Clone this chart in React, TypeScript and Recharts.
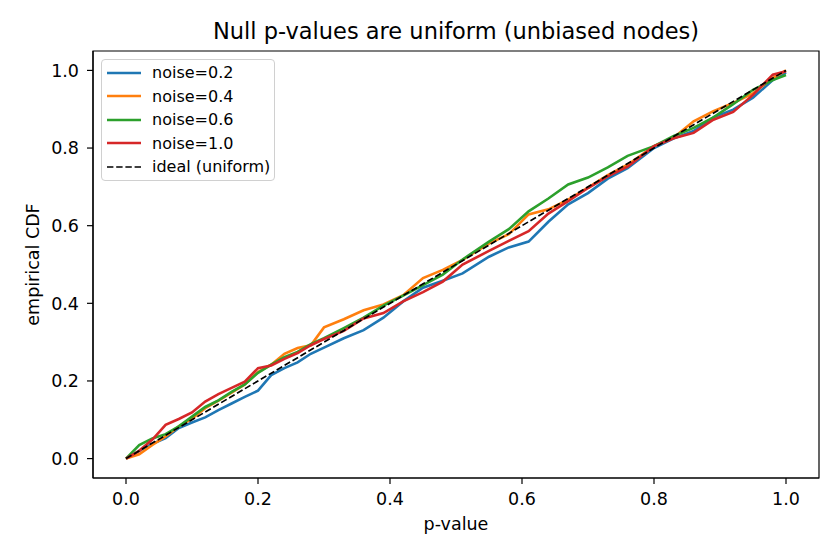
import { LineChart, Line, XAxis, YAxis, ReferenceArea, Legend } from 'recharts';

// sorted p-value grid the curves were read at
const pGrid = [
  0, 0.02, 0.04, 0.06, 0.08, 0.1, 0.12, 0.14, 0.16, 0.18, 0.2, 0.22, 0.24, 0.26, 0.28, 0.3, 0.33, 0.36, 0.39,
  0.42, 0.45, 0.48, 0.51, 0.55, 0.58, 0.61, 0.64, 0.67, 0.7, 0.73, 0.76, 0.8, 0.83, 0.86, 0.89, 0.92, 0.95, 0.98, 1.0,
];

const cdfNoise02 = [
  0, 0.02, 0.038, 0.053, 0.079, 0.093, 0.106, 0.125, 0.142, 0.159, 0.175, 0.215, 0.233, 0.248, 0.27, 0.286, 0.31,
  0.331, 0.363, 0.405, 0.44, 0.458, 0.477, 0.52, 0.544, 0.559, 0.61, 0.655, 0.684, 0.721, 0.748, 0.8, 0.825, 0.844,
  0.879, 0.899, 0.93, 0.975, 0.995,
];
const cdfNoise04 = [
  0, 0.011, 0.035, 0.057, 0.083, 0.103, 0.13, 0.149, 0.17, 0.191, 0.223, 0.242, 0.27, 0.285, 0.292, 0.338, 0.359,
  0.382, 0.397, 0.421, 0.465, 0.486, 0.512, 0.554, 0.578, 0.629, 0.642, 0.667, 0.698, 0.73, 0.757, 0.805, 0.827,
  0.869, 0.895, 0.916, 0.941, 0.98, 1.0,
];
const cdfNoise06 = [
  0, 0.035, 0.052, 0.063, 0.083, 0.108, 0.133, 0.15, 0.172, 0.191, 0.221, 0.242, 0.261, 0.275, 0.295, 0.31, 0.336,
  0.363, 0.394, 0.42, 0.447, 0.474, 0.513, 0.559, 0.591, 0.637, 0.67, 0.706, 0.724, 0.75, 0.78, 0.805, 0.831, 0.852,
  0.879, 0.913, 0.95, 0.975, 0.988,
];
const cdfNoise10 = [
  0, 0.02, 0.049, 0.087, 0.102, 0.119, 0.147, 0.166, 0.182, 0.198, 0.233, 0.24, 0.257, 0.272, 0.292, 0.308, 0.329,
  0.361, 0.375, 0.405, 0.429, 0.456, 0.5, 0.535, 0.561, 0.586, 0.631, 0.663, 0.697, 0.727, 0.752, 0.805, 0.825,
  0.839, 0.873, 0.893, 0.937, 0.989, 0.998,
];

const idealP = [0, 1];
const idealCdf = [0, 1];

const ticks = [0, 0.2, 0.4, 0.6, 0.8, 1.0];

const series = [
  { name: 'noise=0.2', color: '#1f77b4', values: cdfNoise02 },
  { name: 'noise=0.4', color: '#ff7f0e', values: cdfNoise04 },
  { name: 'noise=0.6', color: '#2ca02c', values: cdfNoise06 },
  { name: 'noise=1.0', color: '#d62728', values: cdfNoise10 },
];

const FONT = '"DejaVu Sans", sans-serif';

const LegendBox = () => (
  <div
    style={{
      width: 174,
      height: 122,
      boxSizing: 'border-box',
      border: '1px solid #d0d0d0',
      borderRadius: 4,
      background: 'rgba(255,255,255,0.8)',
      paddingTop: 1,
      fontFamily: FONT,
      fontSize: 16,
      color: '#000',
    }}
  >
    {[...series.map((s) => ({ name: s.name, color: s.color, dashed: false })), { name: 'ideal (uniform)', color: '#000', dashed: true }].map(
      (item) => (
        <div key={item.name} style={{ height: 23.5, display: 'flex', alignItems: 'center' }}>
          <svg width={34} height={6} style={{ marginLeft: 5, marginRight: 11 }}>
            <line
              x1={0}
              y1={3}
              x2={34}
              y2={3}
              stroke={item.color}
              strokeWidth={item.dashed ? 1.7 : 2.6}
              strokeDasharray={item.dashed ? '6.4 2.8' : undefined}
            />
          </svg>
          <span style={{ whiteSpace: 'nowrap' }}>{item.name}</span>
        </div>
      )
    )}
  </div>
);

export default function App() {
  const idealData = idealP.map((p, i) => ({ p, cdf: idealCdf[i] }));

  return (
    <div style={{ position: 'absolute', left: 0, top: 0, width: 840, height: 560, background: '#fff' }}>
      <div
        style={{
          position: 'absolute',
          left: 93,
          top: 20,
          width: 726,
          textAlign: 'center',
          fontFamily: FONT,
          fontSize: 22.5,
          lineHeight: '22px',
          color: '#000',
        }}
      >
        Null p-values are uniform (unbiased nodes)
      </div>
      <LineChart
        width={840}
        height={560}
        margin={{ top: 51, right: 21, bottom: 0, left: 0 }}
        style={{ fontFamily: FONT }}
      >
        <XAxis
          dataKey="p"
          type="number"
          domain={[-0.05, 1.05]}
          ticks={ticks}
          tickFormatter={(v: number) => v.toFixed(1)}
          allowDataOverflow
          height={82}
          tickSize={6}
          tickMargin={9}
          axisLine={{ stroke: '#000', strokeWidth: 1.2 }}
          tickLine={{ stroke: '#000', strokeWidth: 1.2 }}
          tick={{ fill: '#000', fontSize: 17.5 }}
          label={{ value: 'p-value', position: 'insideBottom', offset: 30, fill: '#000', fontSize: 17.5 }}
        />
        <YAxis
          dataKey="cdf"
          type="number"
          domain={[-0.05, 1.05]}
          ticks={ticks}
          tickFormatter={(v: number) => v.toFixed(1)}
          allowDataOverflow
          width={93}
          tickSize={6}
          tickMargin={8}
          axisLine={{ stroke: '#000', strokeWidth: 1.2 }}
          tickLine={{ stroke: '#000', strokeWidth: 1.2 }}
          tick={{ fill: '#000', fontSize: 17.5 }}
          label={{
            value: 'empirical CDF',
            angle: -90,
            position: 'insideLeft',
            offset: 33,
            fill: '#000',
            fontSize: 17.5,
            style: { textAnchor: 'middle' },
          }}
        />
        <ReferenceArea x1={-0.05} x2={1.05} y1={-0.05} y2={1.05} fill="none" stroke="#000" strokeWidth={1.2} />
        {series.map((s) => (
          <Line
            key={s.name}
            data={pGrid.map((p, i) => ({ p, cdf: s.values[i] }))}
            dataKey="cdf"
            name={s.name}
            type="linear"
            stroke={s.color}
            strokeWidth={2.6}
            dot={false}
            isAnimationActive={false}
          />
        ))}
        <Line
          data={idealData}
          dataKey="cdf"
          name="ideal (uniform)"
          type="linear"
          stroke="#000"
          strokeWidth={1.7}
          strokeDasharray="6.4 2.8"
          dot={false}
          isAnimationActive={false}
        />
        <Legend
          layout="horizontal"
          verticalAlign="middle"
          align="center"
          content={() => <LegendBox />}
          wrapperStyle={{ position: 'absolute', left: 101, top: 59, width: 174, height: 122 }}
        />
      </LineChart>
    </div>
  );
}
